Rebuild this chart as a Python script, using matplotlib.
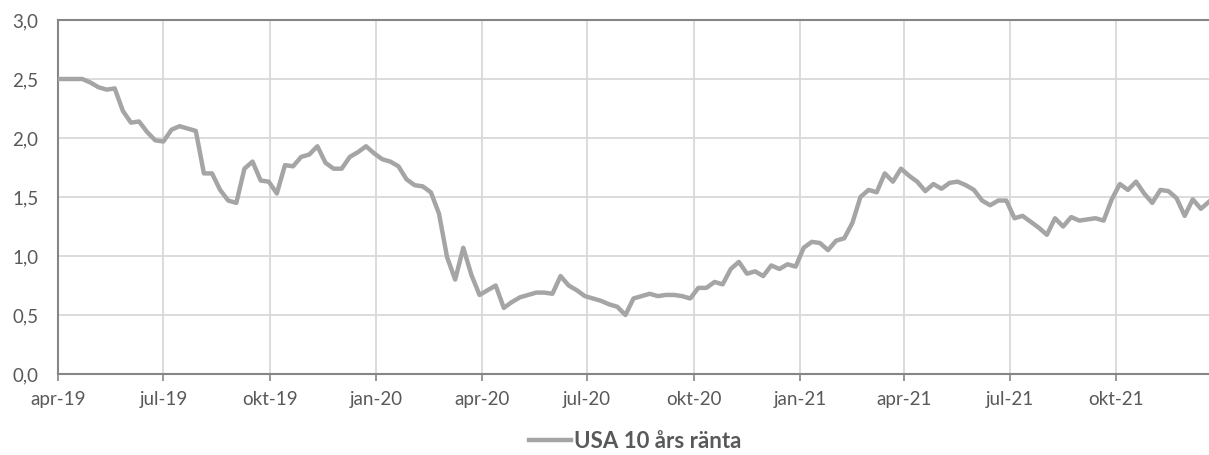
import numpy as np
import pandas as pd
import matplotlib.pyplot as plt
import matplotlib as mpl
from matplotlib.ticker import FuncFormatter

mpl.rc('font', family=['Lato', 'DejaVu Sans'])

### Data: USA 10-year yield, weekly ###
start_date = '2019-04-01'
ranta = [
    2.50, 2.50, 2.50, 2.50, 2.47, 2.43, 2.41, 2.42, 2.23, 2.13,
    2.14, 2.05, 1.98, 1.97, 2.07, 2.10, 2.08, 2.06, 1.70, 1.70,
    1.56, 1.47, 1.45, 1.74, 1.80, 1.64, 1.63, 1.53, 1.77, 1.76,
    1.84, 1.86, 1.93, 1.79, 1.74, 1.74, 1.84, 1.88, 1.93, 1.87,
    1.82, 1.80, 1.76, 1.65, 1.60, 1.59, 1.54, 1.36, 0.99, 0.80,
    1.07, 0.84, 0.67, 0.71, 0.75, 0.56, 0.61, 0.65, 0.67, 0.69,
    0.69, 0.68, 0.83, 0.75, 0.71, 0.66, 0.64, 0.62, 0.59, 0.57,
    0.50, 0.64, 0.66, 0.68, 0.66, 0.67, 0.67, 0.66, 0.64, 0.73,
    0.73, 0.78, 0.76, 0.89, 0.95, 0.85, 0.87, 0.83, 0.92, 0.89,
    0.93, 0.91, 1.07, 1.12, 1.11, 1.05, 1.13, 1.15, 1.28, 1.50,
    1.56, 1.54, 1.70, 1.63, 1.74, 1.68, 1.63, 1.55, 1.61, 1.57,
    1.62, 1.63, 1.60, 1.56, 1.47, 1.43, 1.47, 1.47, 1.32, 1.34,
    1.29, 1.24, 1.18, 1.32, 1.25, 1.33, 1.30, 1.31, 1.32, 1.30,
    1.48, 1.61, 1.56, 1.63, 1.53, 1.45, 1.56, 1.55, 1.49, 1.34,
    1.48, 1.40, 1.46,
]
datum = pd.date_range(start_date, periods=len(ranta), freq='7D')

tick_dates = pd.date_range('2019-04-01', '2021-10-01', freq='3MS')
tick_labels = ['apr-19', 'jul-19', 'okt-19', 'jan-20', 'apr-20', 'jul-20',
               'okt-20', 'jan-21', 'apr-21', 'jul-21', 'okt-21']
serie_namn = 'USA 10 års ränta'

### Graf ###
fig = plt.figure(figsize=(12.09, 4.55), dpi=100)
ax = fig.add_axes([58/1209, 1 - 374/455, 1 - 58/1209, (374 - 20)/455])

ax.plot(datum, ranta, color='#a5a5a5', linewidth=3.2, label=serie_namn,
        solid_joinstyle='round', zorder=3)

ax.set_xlim(datum[0], datum[-1])
ax.set_ylim(0, 3.0)
ax.set_yticks(np.arange(0, 3.01, 0.5))
ax.yaxis.set_major_formatter(FuncFormatter(lambda v, p: f'{v:.1f}'.replace('.', ',')))
ax.set_xticks(tick_dates)
ax.set_xticklabels(tick_labels)

# Rutnät och ramar
ax.grid(True, color='#d9d9d9', linewidth=1.3, zorder=0)
for s in ['left', 'bottom', 'top']:
    ax.spines[s].set_color('#868686')
    ax.spines[s].set_linewidth(1.5)
ax.spines['right'].set_visible(False)
ax.tick_params(axis='x', length=5, width=1.2, color='#868686', labelsize=13.5,
               labelcolor='#595959', pad=7)
ax.tick_params(axis='y', length=0, labelsize=13.5, labelcolor='#595959', pad=14)

# Legend
leg = fig.legend(loc='center', bbox_to_anchor=(635/1209, 1 - 441/455), frameon=False,
                 handlelength=1.9, handletextpad=0.15,
                 prop={'size': 16, 'weight': 'bold'})
for t in leg.get_texts():
    t.set_color('#595959')

plt.savefig('out.png', dpi=100)
